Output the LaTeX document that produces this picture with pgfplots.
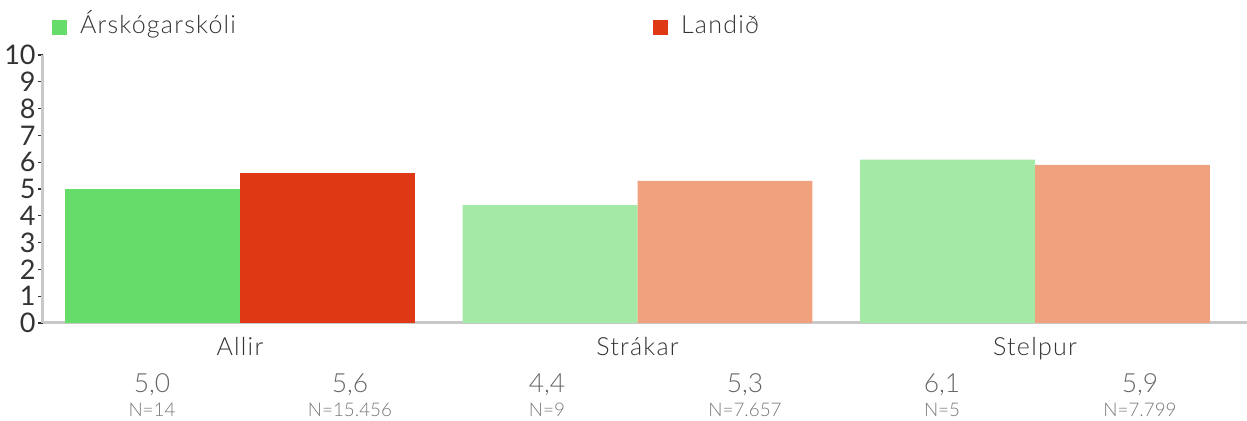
\documentclass[border=0pt]{standalone}
\usepackage{fontspec}
\setmainfont{Lato Light}
\newfontfamily\spaced{Lato Light}[LetterSpace=5]
\newfontfamily\regular{Lato}
\usepackage{pgfplots}
\pgfplotsset{compat=1.18}

\definecolor{grA}{HTML}{66DD6A}
\definecolor{rdA}{HTML}{DE3914}
\definecolor{grB}{HTML}{A5E9A6}
\definecolor{rdB}{HTML}{EFA27D}
\definecolor{axgray}{HTML}{C8C8C8}
\definecolor{labgray}{HTML}{333333}
\definecolor{valgray}{HTML}{666666}
\definecolor{ngray}{HTML}{777777}

\begin{document}
\begin{tikzpicture}
\useasboundingbox (-21.5pt,-49pt) rectangle (602pt,161.5pt);
\begin{axis}[
  at={(0,0)}, anchor=south west,
  scale only axis, width=602pt, height=134pt,
  xmin=-0.4956, xmax=2.5333, ymin=0, ymax=10,
  ybar=0pt, bar width=0.44,
  axis x line=bottom, axis y line=left,
  axis line style={-, draw=axgray, line width=1.5pt},
  ytick={0,1,...,10},
  xtick={0,1,2}, xticklabels={Allir,Strákar,Stelpur},
  x tick style={draw=none},
  y tick style={draw=labgray, line width=0.6pt},
  tick align=outside, major tick length=2.5pt,
  yticklabel style={font=\regular\fontsize{13.5}{14}\selectfont, text=labgray, inner sep=1pt},
  xticklabel style={font=\spaced\fontsize{12.5}{12.5}\selectfont, text=labgray, anchor=base, yshift=-14pt},
  /pgf/number format/assume math mode=true,
  clip=false,
  legend columns=2,
  legend style={draw=none, fill=none, inner sep=0pt, outer sep=0pt,
    at={(axis description cs:0.0075,1.104)}, anchor=west,
    font=\spaced\fontsize{12.5}{12.5}\selectfont, text=labgray,
    nodes={inner sep=0pt, text width=286.5pt, align=left, text height=9pt, text depth=3pt},
    /tikz/every odd column/.append style={column sep=6.5pt},
    /tikz/every even column/.append style={column sep=0pt}},
]
% Allir (full colour)
\addplot[fill=grA, draw=none, bar shift=-0.22,
  legend image code/.code={\fill[grA] (0pt,-3.75pt) rectangle (7.5pt,3.75pt);}]
  coordinates {(0,5.0)};
\addlegendentry{Árskógarskóli}
\addplot[fill=rdA, draw=none, bar shift=0.22,
  legend image code/.code={\fill[rdA] (0pt,-3.75pt) rectangle (7.5pt,3.75pt);}]
  coordinates {(0,5.6)};
\addlegendentry{Landið}
% Strákar, Stelpur (light)
\addplot[fill=grB, draw=none, bar shift=-0.22, forget plot]
  coordinates {(1,4.4) (2,6.1)};
\addplot[fill=rdB, draw=none, bar shift=0.22, forget plot]
  coordinates {(1,5.3) (2,5.9)};

% values and counts under the categories
\node[anchor=base, yshift=-35pt, text=valgray, font=\fontsize{13.2}{13}\selectfont] at (axis cs:-0.2214,0) {5,0};
\node[anchor=base, yshift=-35pt, text=valgray, font=\fontsize{13.2}{13}\selectfont] at (axis cs:0.2767,0) {5,6};
\node[anchor=base, yshift=-35pt, text=valgray, font=\fontsize{13.2}{13}\selectfont] at (axis cs:0.7723,0) {4,4};
\node[anchor=base, yshift=-35pt, text=valgray, font=\fontsize{13.2}{13}\selectfont] at (axis cs:1.2704,0) {5,3};
\node[anchor=base, yshift=-35pt, text=valgray, font=\fontsize{13.2}{13}\selectfont] at (axis cs:1.7660,0) {6,1};
\node[anchor=base, yshift=-35pt, text=valgray, font=\fontsize{13.2}{13}\selectfont] at (axis cs:2.2642,0) {5,9};
\node[anchor=base, yshift=-47pt, text=ngray, font=\fontsize{9.4}{9}\selectfont] at (axis cs:-0.2214,0) {N=14};
\node[anchor=base, yshift=-47pt, text=ngray, font=\fontsize{9.4}{9}\selectfont] at (axis cs:0.2767,0) {N=15.456};
\node[anchor=base, yshift=-47pt, text=ngray, font=\fontsize{9.4}{9}\selectfont] at (axis cs:0.7723,0) {N=9};
\node[anchor=base, yshift=-47pt, text=ngray, font=\fontsize{9.4}{9}\selectfont] at (axis cs:1.2704,0) {N=7.657};
\node[anchor=base, yshift=-47pt, text=ngray, font=\fontsize{9.4}{9}\selectfont] at (axis cs:1.7660,0) {N=5};
\node[anchor=base, yshift=-47pt, text=ngray, font=\fontsize{9.4}{9}\selectfont] at (axis cs:2.2642,0) {N=7.799};
\end{axis}
\end{tikzpicture}
\end{document}
